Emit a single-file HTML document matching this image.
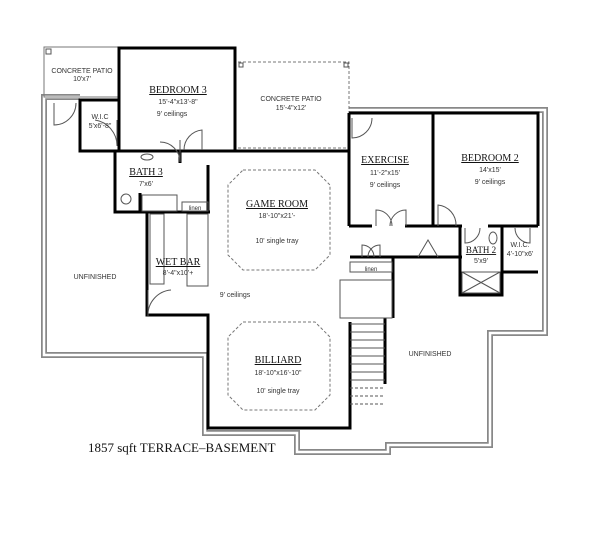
<!DOCTYPE html>
<html><head><style>
html,body{margin:0;padding:0;background:#fff;}
svg{display:block;}
.s{font-family:"Liberation Sans",sans-serif;font-size:7px;fill:#333;text-anchor:middle;}
.r{font-family:"Liberation Serif",serif;font-size:10px;fill:#111;text-anchor:middle;text-decoration:underline;}
</style></head><body>
<svg width="600" height="548" viewBox="0 0 600 548" xmlns="http://www.w3.org/2000/svg">
<rect width="600" height="548" fill="#fff"/>
<g fill="none" stroke-linejoin="miter">
<path d="M80,97 L44,97 L44,355 L205,355 L205,433 L297,433 L297,452 L388,452 L388,445 L490,445 L490,333 L545,333 L545,110 L349,110" stroke="#888" stroke-width="6"/>
<path d="M80,97 L44,97 L44,355 L205,355 L205,433 L297,433 L297,452 L388,452 L388,445 L490,445 L490,333 L545,333 L545,110 L349,110" stroke="#fff" stroke-width="2.5"/>
</g>
<rect x="44" y="47" width="75" height="50" fill="none" stroke="#777" stroke-width="1"/>
<rect x="46" y="49" width="5" height="5" fill="none" stroke="#555"/>
<path d="M238,62 L349,62 L349,148 L238,148" fill="none" stroke="#777" stroke-width="1" stroke-dasharray="3,2"/>
<rect x="239" y="63" width="4" height="4" fill="none" stroke="#555"/>
<rect x="344" y="63" width="4" height="4" fill="none" stroke="#555"/>
<polygon points="243,170 315,170 330,185 330,255 315,270 243,270 228,255 228,185" fill="none" stroke="#777" stroke-dasharray="3,2"/>
<polygon points="243,322 315,322 330,337 330,395 315,410 243,410 228,395 228,337" fill="none" stroke="#777" stroke-dasharray="3,2"/>
<g fill="none" stroke="#000" stroke-width="3">
<rect x="119" y="48" width="116" height="103"/>
<rect x="80" y="100" width="39" height="51"/>
<path d="M115,151 L115,212 L210,212"/>
<path d="M180,151 L180,163"/>
<path d="M208,151 L349,151"/>
<path d="M208,165 L208,212"/>
<path d="M147,212 L147,315 L208,315 L208,428 L350,428 L350,322"/>
<path d="M349,113 L538,113 L538,226"/>
<path d="M349,113 L349,226"/>
<path d="M433,113 L433,226"/>
<path d="M349,226 L372,226 M405,226 L462,226 M488,226 L538,226"/>
<path d="M350,257 L462,257"/>
<path d="M460,226 L460,295 L502,295 L502,226"/>
<path d="M502,272 L538,272"/>
<path d="M393,257 L393,318"/>
<path d="M385,318 L385,384"/>
<path d="M140,193 L140,212"/>
</g>
<g fill="none" stroke="#555" stroke-width="1">
<rect x="142" y="195" width="35" height="16"/>
<circle cx="126" cy="199" r="5"/>
<ellipse cx="147" cy="157" rx="6" ry="3"/>
<rect x="182" y="202" width="26" height="9"/>
<rect x="150" y="214" width="14" height="70"/>
<rect x="187" y="214" width="21" height="72"/>
<rect x="340" y="280" width="52" height="38"/>
<rect x="350" y="262" width="42" height="10"/>
<path d="M350,324 h35 M350,332 h35 M350,340 h35 M350,348 h35 M350,356 h35 M350,364 h35 M350,372 h35 M350,380 h35"/>
<path d="M350,388 h35 M350,396 h35 M350,404 h35" stroke-dasharray="3,2"/>
<rect x="462" y="272" width="38" height="21"/>
<path d="M462,272 L500,293 M500,272 L462,293"/>
<ellipse cx="493" cy="238" rx="4" ry="6"/>
<path d="M54,103 L54,125 A22,22 0 0 0 76,103"/>
<path d="M117,120 L117,146 A26,26 0 0 0 95,120"/>
<path d="M202,150 L202,130 A20,20 0 0 0 184,150"/>
<path d="M180,140 L180,162 A20,20 0 0 0 160,142"/>
<path d="M148,290 L148,316 A25,25 0 0 1 171,290"/>
<path d="M376,226 L376,210 A16,16 0 0 1 392,226 M406,226 L406,210 A16,16 0 0 0 390,226"/>
<path d="M438,226 L438,205 A20,20 0 0 1 456,226"/>
<path d="M352,118 L352,138 A20,20 0 0 0 372,118"/>
<path d="M362,257 L362,245 A12,12 0 0 1 374,257 M380,257 L380,245 A12,12 0 0 0 368,257"/>
<path d="M418,257 L428,240 L438,257"/>
<path d="M465,228 L465,243 A15,15 0 0 0 480,228"/>
<path d="M530,228 L530,243 A15,15 0 0 1 515,228"/>
</g>
<text class="s" x="82" y="73">CONCRETE PATIO</text>
<text class="s" x="82" y="81">10'x7'</text>
<text class="r" x="178" y="93">BEDROOM 3</text>
<text class="s" x="178" y="104">15'-4"x13'-8"</text>
<text class="s" x="172" y="116">9' ceilings</text>
<text class="s" x="291" y="101">CONCRETE PATIO</text>
<text class="s" x="291" y="110">15'-4"x12'</text>
<text class="s" x="100" y="119">W.I.C</text>
<text class="s" x="100" y="128">5'x6'-8"</text>
<text class="r" x="146" y="175">BATH 3</text>
<text class="s" x="146" y="186">7'x6'</text>
<text class="s" x="195" y="210" style="font-size:6px">linen</text>
<text class="r" x="277" y="207">GAME ROOM</text>
<text class="s" x="277" y="218">18'-10"x21'-</text>
<text class="s" x="277" y="243">10' single tray</text>
<text class="r" x="385" y="163">EXERCISE</text>
<text class="s" x="385" y="175">11'-2"x15'</text>
<text class="s" x="385" y="187">9' ceilings</text>
<text class="r" x="490" y="161">BEDROOM 2</text>
<text class="s" x="490" y="172">14'x15'</text>
<text class="s" x="490" y="184">9' ceilings</text>
<text class="r" x="481" y="253" style="font-size:9px">BATH 2</text>
<text class="s" x="481" y="263">5'x9'</text>
<text class="s" x="520" y="247">W.I.C.</text>
<text class="s" x="520" y="256">4'-10"x6'</text>
<text class="s" x="371" y="271" style="font-size:6px">linen</text>
<text class="r" x="178" y="265">WET BAR</text>
<text class="s" x="178" y="275">8'-4"x10'+</text>
<text class="s" x="95" y="279">UNFINISHED</text>
<text class="s" x="235" y="297">9' ceilings</text>
<text class="s" x="430" y="356">UNFINISHED</text>
<text class="r" x="278" y="363">BILLIARD</text>
<text class="s" x="278" y="375">18'-10"x16'-10"</text>
<text class="s" x="278" y="393">10' single tray</text>
<text x="88" y="452" style="font-family:'Liberation Serif',serif;font-size:13px;fill:#111">1857 sqft TERRACE–BASEMENT</text>
</svg>
</body></html>
